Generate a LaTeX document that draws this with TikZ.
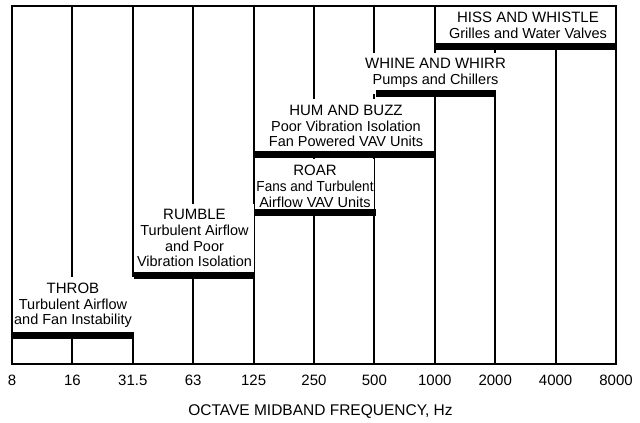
\documentclass[tikz,border=0pt]{standalone}
\usepackage{fontspec}
\setmainfont{Liberation Sans}
\usepackage{graphicx}
\newcommand{\ttl}[1]{{\fontsize{15}{15.7}\selectfont #1}}
\tikzset{
  gridline/.style={line width=2pt, black},
  frameline/.style={line width=2.2pt, black},
  bandbar/.style={line width=7pt, black, line cap=butt},
  lbl/.style={anchor=north, align=center, fill=white, inner xsep=2pt, inner ysep=6pt,
              font=\fontsize{14.5}{15.7}\selectfont},
  ticklbl/.style={anchor=base, inner sep=0pt, font=\fontsize{15}{18}\selectfont},
  axislbl/.style={anchor=base, inner sep=0pt, font=\fontsize{15.5}{18}\selectfont}
}
\begin{document}
\begin{tikzpicture}[x=1pt,y=-1pt]
\useasboundingbox (0,0) rectangle (640,423);
% interior grid lines
\foreach \i in {1,...,9}
  \draw[gridline] ({12+60.4*\i},6) -- ({12+60.4*\i},364);
% labels (white boxes hide the grid lines behind them)
\node[lbl] (throb) at (73,276.7) {\ttl{THROB}\\Turbulent Airflow\\and Fan Instability};
\node[lbl] (rumble) at (194.5,203.3) {\ttl{RUMBLE}\\Turbulent Airflow\\and Poor\\Vibration Isolation};
\node[lbl, inner xsep=0.3pt] (roar) at (315,159) {\ttl{ROAR}\\\scalebox{0.935}[1]{Fans and Turbulent}\\Airflow VAV Units};
\node[lbl] (hum) at (346,99) {\ttl{HUM AND BUZZ}\\Poor Vibration Isolation\\Fan Powered VAV Units};
\node[lbl] (whine) at (435.5,52.3) {\ttl{WHINE AND WHIRR}\\Pumps and Chillers};
\node[lbl] (hiss) at (528,5.7) {\ttl{HISS AND WHISTLE}\\Grilles and Water Valves};
% frame
\draw[frameline] (12,6) rectangle (616,364);
% band bars
\draw[bandbar] (12,335) -- (134,335);
\draw[bandbar] (134,275.3) -- (255.2,275.3);
\draw[bandbar] (255.2,212.8) -- (375.6,212.8);
\draw[bandbar] (255.2,154.3) -- (436,154.3);
\draw[bandbar] (375.6,93) -- (496.4,93);
\draw[bandbar] (436,46) -- (616,46);
% tick labels
\foreach \i/\t in {0/8,1/16,2/31.5,3/63,4/125,5/250,6/500,7/1000,8/2000,9/4000,10/8000}
  \node[ticklbl] (tick\i) at ({12+60.4*\i},385) {\t};
\node[axislbl] (axis) at (320.5,415.7) {OCTAVE MIDBAND FREQUENCY, Hz};
\end{tikzpicture}
\end{document}
